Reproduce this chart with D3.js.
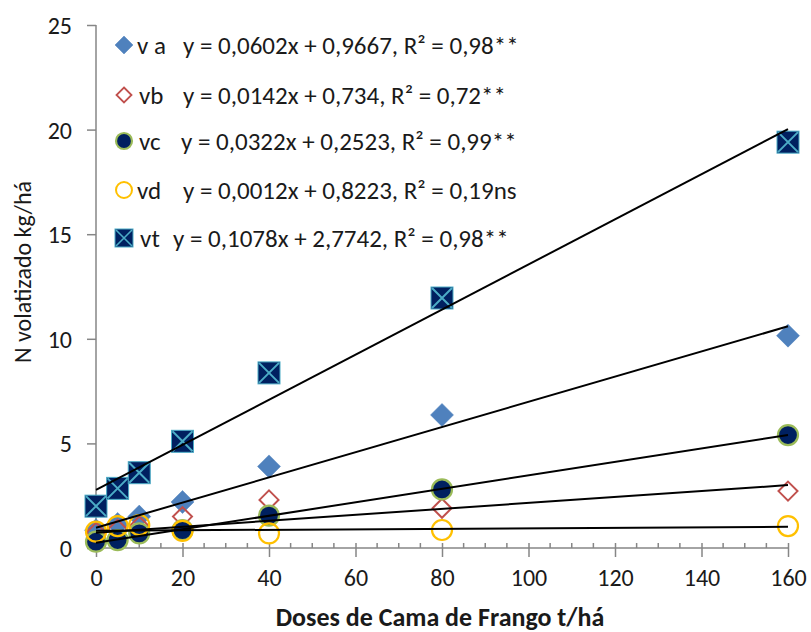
<!DOCTYPE html>
<html><head><meta charset="utf-8">
<script src="https://cdn.jsdelivr.net/npm/d3@7"></script>
<style>
html,body{margin:0;padding:0;background:#fff;}
svg text{font-family:Carlito,Lato,"Open Sans",sans-serif;fill:#1a1a1a;}
</style></head>
<body><svg id="chart" width="811" height="632"></svg>
<script>
// ---- data ----
const doses = [0, 5, 10, 20, 40, 80, 160];
const va = [0.85, 1.15, 1.5, 2.2, 3.9, 6.36, 10.15];
const vb = [0.75, 0.9, 1.05, 1.5, 2.3, 1.9, 2.72];
const vc = [0.3, 0.38, 0.7, 0.85, 1.55, 2.8, 5.4];
const vd = [0.78, 1.05, 1.1, 0.82, 0.7, 0.86, 1.05];
const vt = [2.0, 2.85, 3.6, 5.1, 8.37, 11.95, 19.4];
const seriesNames = ["v a", "vb", "vc", "vd", "vt"];
const slopes = [0.0602, 0.0142, 0.0322, 0.0012, 0.1078];
const intercepts = [0.9667, 0.734, 0.2523, 0.8223, 2.7742];
const equations = [
  "y = 0,0602x + 0,9667, R\u00b2 = 0,98**",
  "y = 0,0142x + 0,734, R\u00b2 = 0,72**",
  "y = 0,0322x + 0,2523, R\u00b2 = 0,99**",
  "y = 0,0012x + 0,8223, R\u00b2 = 0,19ns",
  "y = 0,1078x + 2,7742, R\u00b2 = 0,98**"
];
const xTicks = [0, 20, 40, 60, 80, 100, 120, 140, 160];
const yTicks = [0, 5, 10, 15, 20, 25];
const xTitle = "Doses de Cama de Frango t/h\u00e1";
const yTitle = "N volatizado kg/h\u00e1";

// ---- layout ----
const svg = d3.select("#chart");
const x = d3.scaleLinear().domain([0, 160]).range([96, 788]);
const y = d3.scaleLinear().domain([0, 25]).range([548, 25]);
const axisColor = "#868686";
const tickFont = 24;

// y axis
const yAxis = svg.append("g").attr("transform", "translate(96,0)")
  .call(d3.axisLeft(y).tickValues(yTicks).tickSize(9).tickPadding(15).tickFormat(d3.format("d")));
yAxis.select(".domain").attr("stroke", axisColor).attr("stroke-width", 1.5).attr("d", `M0,${y(25)}V${y(0)}`);
yAxis.selectAll(".tick line").attr("stroke", axisColor).attr("stroke-width", 1.5);
yAxis.selectAll(".tick text").attr("font-size", tickFont).attr("fill", "#1a1a1a").attr("dy", "0.35em");

// x axis
const xg = svg.append("g").attr("transform", `translate(0,${y(0)})`);
const minor = d3.range(0, 161, 5).filter(v => v % 20 !== 0);
xg.selectAll("line.minor").data(minor).join("line")
  .attr("x1", d => x(d)).attr("x2", d => x(d)).attr("y1", -5).attr("y2", 0)
  .attr("stroke", axisColor).attr("stroke-width", 1.5);
const xAxis = xg.call(d3.axisBottom(x).tickValues(xTicks).tickSize(9).tickPadding(12).tickFormat(d3.format("d")));
xAxis.select(".domain").attr("stroke", axisColor).attr("stroke-width", 1.5).attr("d", `M${x(0)},0H${x(160)}`);
xAxis.selectAll(".tick line").attr("stroke", axisColor).attr("stroke-width", 1.5).attr("y1", -5).attr("y2", 9);
xAxis.selectAll(".tick text").attr("font-size", tickFont).attr("fill", "#1a1a1a");

// titles
svg.append("text").attr("x", 440).attr("y", 626).attr("text-anchor", "middle")
  .attr("font-size", 26).attr("font-weight", "bold").text(xTitle);
svg.append("text").attr("transform", "translate(31,272) rotate(-90)").attr("text-anchor", "middle")
  .attr("font-size", 24).text(yTitle);

// marker drawers
function diamond(g, cx, cy, s, fill, stroke, sw) {
  g.append("path").attr("d", `M${cx},${cy - s}L${cx + s},${cy}L${cx},${cy + s}L${cx - s},${cy}Z`)
    .attr("fill", fill).attr("stroke", stroke).attr("stroke-width", sw);
}
const markers = [
  (g, cx, cy) => diamond(g, cx, cy, 11.5, "#4F81BD", "#4F81BD", 0.5),
  (g, cx, cy) => diamond(g, cx, cy, 9.5, "none", "#C0504D", 2),
  (g, cx, cy) => g.append("circle").attr("cx", cx).attr("cy", cy).attr("r", 10)
      .attr("fill", "#002060").attr("stroke", "#9BBB59").attr("stroke-width", 2.2),
  (g, cx, cy) => g.append("circle").attr("cx", cx).attr("cy", cy).attr("r", 10)
      .attr("fill", "none").attr("stroke", "#FFC000").attr("stroke-width", 2.2),
  (g, cx, cy) => {
    const s = 11;
    g.append("rect").attr("x", cx - s).attr("y", cy - s).attr("width", 2 * s).attr("height", 2 * s)
      .attr("fill", "#002060").attr("stroke", "#4BACC6").attr("stroke-width", 1);
    g.append("path").attr("d", `M${cx - s + 1},${cy - s + 1}L${cx + s - 1},${cy + s - 1}M${cx + s - 1},${cy - s + 1}L${cx - s + 1},${cy + s - 1}`)
      .attr("stroke", "#4BACC6").attr("stroke-width", 2);
  }
];
const allSeries = [va, vb, vc, vd, vt];

const pts = svg.append("g");
allSeries.forEach((vals, i) => {
  vals.forEach((v, j) => markers[i](pts, x(doses[j]), y(v)));
});

// trendlines
const lines = svg.append("g");
slopes.forEach((m, i) => {
  const x0 = 0, x1 = 160;
  lines.append("line").attr("x1", x(x0)).attr("y1", y(intercepts[i] + m * x0))
    .attr("x2", x(x1)).attr("y2", y(intercepts[i] + m * x1))
    .attr("stroke", "#000").attr("stroke-width", 2);
});

// legend
const legY = [45, 95, 141, 190, 238];
const labelX = [137, 139, 139, 137, 140];
const eqX = [183, 183, 181, 183, 173];
const legFont = 25;
const leg = svg.append("g");
seriesNames.forEach((n, i) => {
  const cy = legY[i];
  const g = leg.append("g");
  if (i === 4) {
    const s = 9, cx = 124;
    g.append("rect").attr("x", cx - s).attr("y", cy - s).attr("width", 2 * s).attr("height", 2 * s)
      .attr("fill", "#002060").attr("stroke", "#4BACC6").attr("stroke-width", 1);
    g.append("path").attr("d", `M${cx - s + 1},${cy - s + 1}L${cx + s - 1},${cy + s - 1}M${cx + s - 1},${cy - s + 1}L${cx - s + 1},${cy + s - 1}`)
      .attr("stroke", "#4BACC6").attr("stroke-width", 1.6);
  } else if (i === 0) diamond(g, 124, cy, 9, "#4F81BD", "#4F81BD", 0.5);
  else if (i === 1) diamond(g, 124, cy, 7.5, "none", "#C0504D", 1.8);
  else if (i === 2) g.append("circle").attr("cx", 124).attr("cy", cy).attr("r", 8).attr("fill", "#002060").attr("stroke", "#9BBB59").attr("stroke-width", 2.2);
  else g.append("circle").attr("cx", 124).attr("cy", cy).attr("r", 8).attr("fill", "none").attr("stroke", "#FFC000").attr("stroke-width", 2);
  leg.append("text").attr("x", labelX[i]).attr("y", cy).attr("dy", "0.35em").attr("font-size", legFont).text(n);
  leg.append("text").attr("x", eqX[i]).attr("y", cy).attr("dy", "0.35em").attr("font-size", legFont).text(equations[i]);
});
</script></body></html>
